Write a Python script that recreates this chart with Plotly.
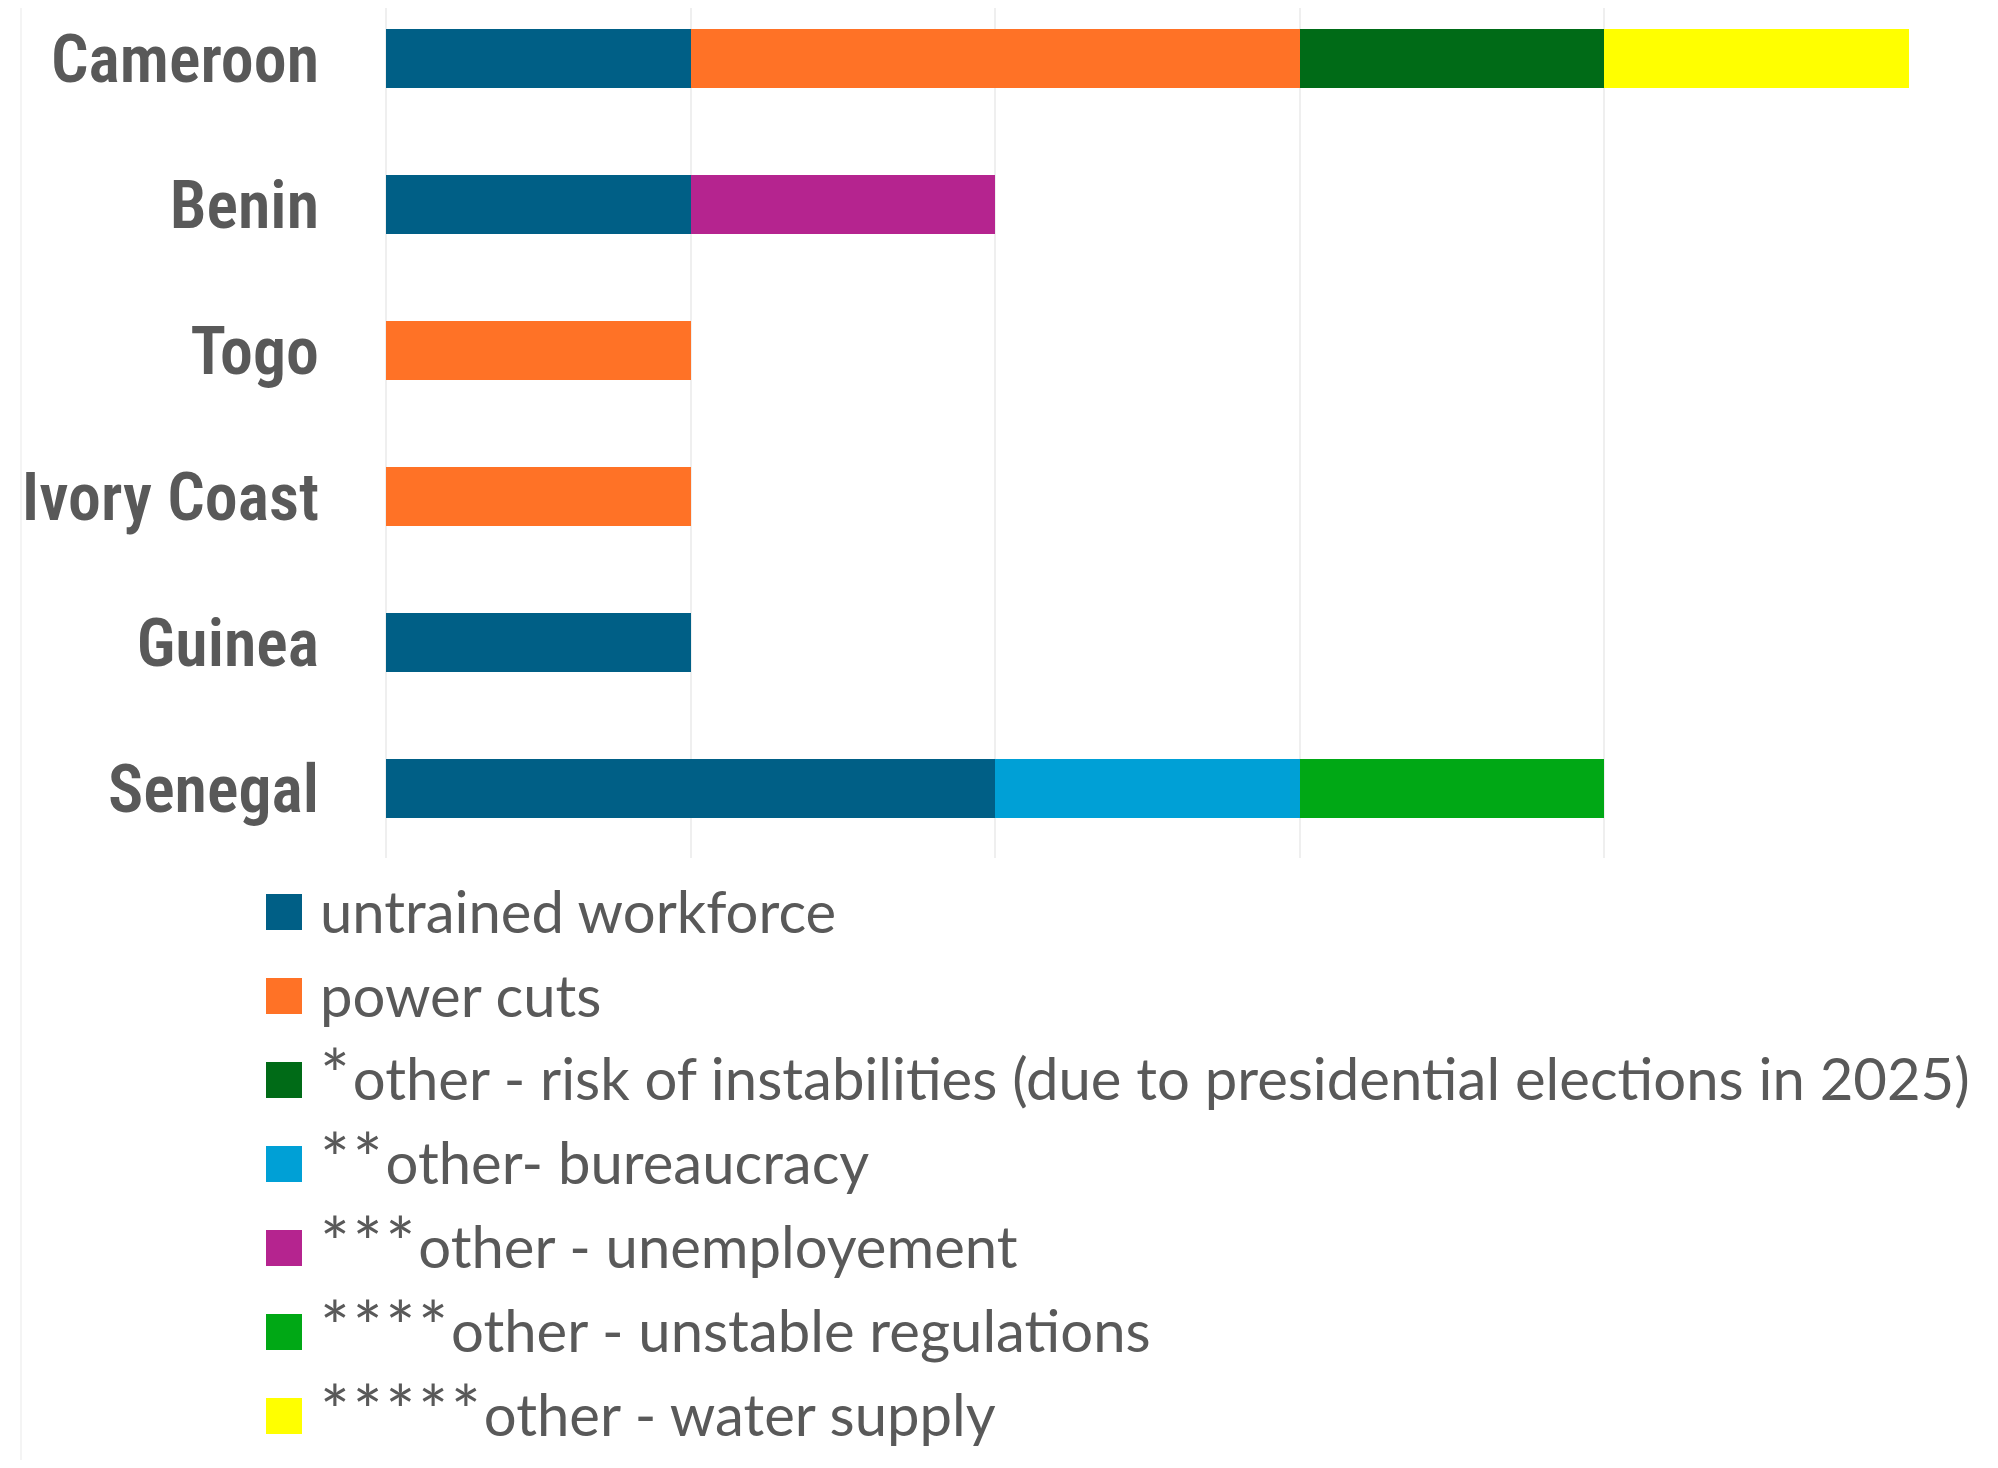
import re
import plotly.graph_objects as go

# 国ごとの課題（下から上の順）
countries = ["Senegal", "Guinea", "Ivory Coast", "Togo", "Benin", "Cameroon"]

untrained_workforce = [2, 1, 0, 0, 1, 1]
power_cuts = [0, 0, 1, 1, 0, 2]
risk_of_instabilities = [0, 0, 0, 0, 0, 1]
bureaucracy = [1, 0, 0, 0, 0, 0]
unemployement = [0, 0, 0, 0, 1, 0]
unstable_regulations = [1, 0, 0, 0, 0, 0]
water_supply = [0, 0, 0, 0, 0, 1]

series_names = [
    "untrained workforce",
    "power cuts",
    "*other - risk of instabilities (due to presidential elections in 2025)",
    "**other- bureaucracy",
    "***other - unemployement",
    "****other - unstable regulations",
    "*****other - water supply",
]
series_values = [
    untrained_workforce,
    power_cuts,
    risk_of_instabilities,
    bureaucracy,
    unemployement,
    unstable_regulations,
    water_supply,
]
series_colors = ["#005F86", "#FF7226", "#006B17", "#00A0D6", "#B5248F", "#00A815", "#FFFF00"]

OFF = 8  # body margin of the page
W, H = 1998 - 2 * OFF, 1468 - 2 * OFF
PL, PR, PB = 386 - OFF, 1909 - OFF, 858 - OFF   # plot area in figure pixels
TEXT = "#595959"


def px_x(x):
    return (x - OFF - PL) / (PR - PL)


def px_y(y):
    return (PB - (y - OFF)) / PB


# 細いフォント（Roboto condensed）
tick_text = [
    f'<span style="font-stretch:condensed;font-weight:600">{c}</span>' for c in countries
]

fig = go.Figure()

for name, vals, col in zip(series_names, series_values, series_colors):
    fig.add_trace(
        go.Bar(
            y=countries,
            x=vals,
            name=name,
            orientation="h",
            marker=dict(color=col, line=dict(width=0)),
            showlegend=False,
        )
    )

# 凡例（大きな四角形のため手作り）
shapes = [
    dict(type="line", xref="paper", yref="paper",
         x0=px_x(21), x1=px_x(21), y0=px_y(1460), y1=1,
         line=dict(color="#F0F0F0", width=1.5), layer="below")
]
annotations = []
for i, (name, col) in enumerate(zip(series_names, series_colors)):
    yc = 912 + 84 * i
    shapes.append(dict(
        type="rect", xref="paper", yref="paper",
        x0=px_x(266), x1=px_x(302), y0=px_y(yc + 18), y1=px_y(yc - 18),
        fillcolor=col, line=dict(width=0),
    ))
    # アスタリスクを大きく、間隔を広げる
    star = name.startswith("*")
    label = re.sub(r"^(\*+)", r'<span style="font-size:70px;letter-spacing:3px">\1</span>', name)
    annotations.append(dict(
        x=px_x(318), y=px_y(yc), xref="paper", yref="paper",
        text=label, showarrow=False, xanchor="left", yanchor="middle",
        font=dict(family="Lato", size=58, color=TEXT), yshift=7 if star else 2,
    ))

fig.update_layout(
    width=W,
    height=H,
    barmode="stack",
    bargap=0.595,
    plot_bgcolor="white",
    paper_bgcolor="white",
    margin=dict(l=PL, r=W - PR, t=0, b=H - PB, pad=0),
    shapes=shapes,
    annotations=annotations,
    showlegend=False,
)

fig.update_xaxes(
    range=[0, 5],
    dtick=1,
    showgrid=True,
    gridcolor="#EFEFEF",
    gridwidth=1.5,
    zeroline=True,
    zerolinecolor="#EFEFEF",
    zerolinewidth=1.5,
    showticklabels=False,
    showline=False,
)
fig.update_yaxes(
    range=[-(PB - (788.5 - OFF)) / 146, 5 + (58.5 - OFF) / 146],
    automargin=False,
    showgrid=False,
    showline=False,
    ticks="",
    tickmode="array",
    tickvals=countries,
    ticktext=tick_text,
    ticklabelstandoff=66,
    tickfont=dict(family="Roboto", size=66, color=TEXT),
)

fig.write_html("out.html")
